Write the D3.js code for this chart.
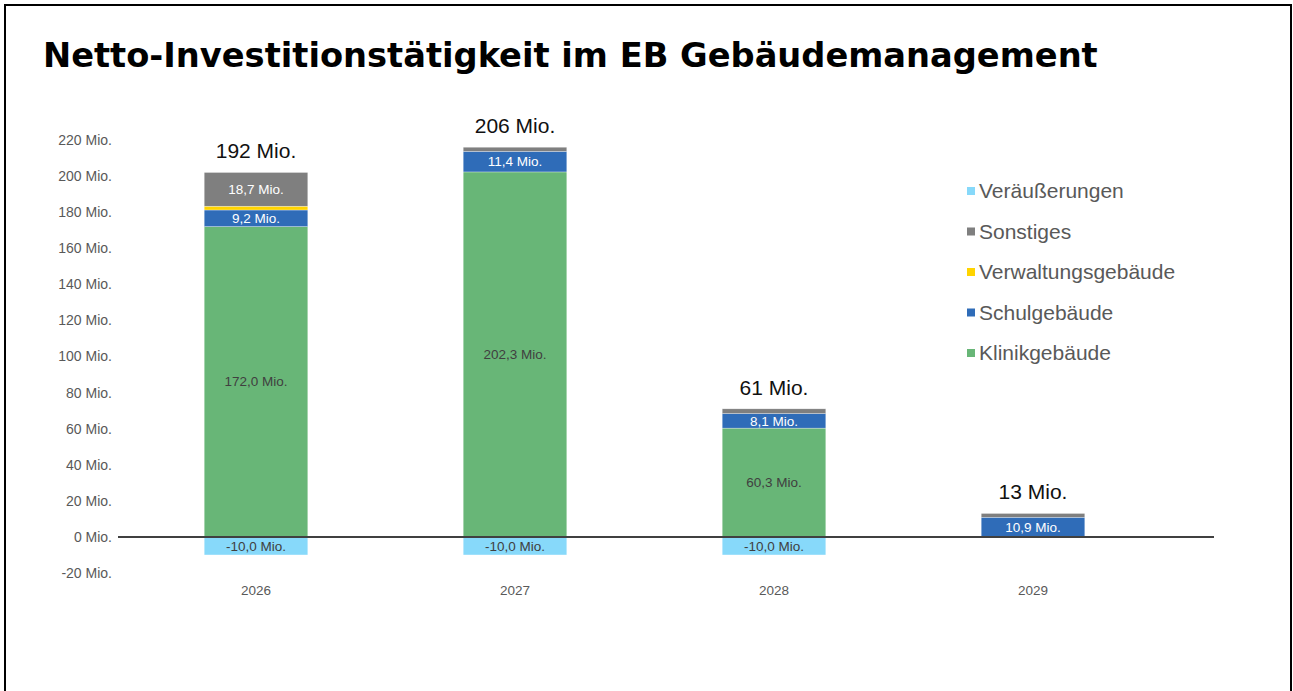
<!DOCTYPE html>
<html>
<head>
<meta charset="utf-8">
<script src="https://cdn.jsdelivr.net/npm/d3@7"></script>
<style>
  body { margin: 0; background: #fff; }
  svg { display: block; }
</style>
</head>
<body>
<div id="chart"></div>
<script>
// ---- data ----
var years = ['2026', '2027', '2028', '2029'];
var veraeusserungen = [-10.0, -10.0, -10.0, 0];
var klinikgebaeude = [172.0, 202.3, 60.3, 0];
var schulgebaeude = [9.2, 11.4, 8.1, 10.9];
var verwaltungsgebaeude = [2.1, 0, 0, 0];
var sonstiges = [18.7, 2.3, 2.6, 2.1];
var yTicks = [-20, 0, 20, 40, 60, 80, 100, 120, 140, 160, 180, 200, 220];

var seriesNames = ['Veräußerungen', 'Klinikgebäude', 'Schulgebäude', 'Verwaltungsgebäude', 'Sonstiges'];
var seriesValues = [veraeusserungen, klinikgebaeude, schulgebaeude, verwaltungsgebaeude, sonstiges];
var colors = {
  'Veräußerungen': '#87d9fa',
  'Klinikgebäude': '#68b677',
  'Schulgebäude': '#2f6cb8',
  'Verwaltungsgebäude': '#ffd400',
  'Sonstiges': '#7f7f7f'
};
var labelColors = {
  'Veräußerungen': '#404040',
  'Klinikgebäude': '#404040',
  'Schulgebäude': '#ffffff',
  'Verwaltungsgebäude': '#404040',
  'Sonstiges': '#ffffff'
};
var legendOrder = ['Veräußerungen', 'Sonstiges', 'Verwaltungsgebäude', 'Schulgebäude', 'Klinikgebäude'];

// rows for d3.stack
var rows = years.map(function(y, i) {
  var r = { year: y };
  seriesNames.forEach(function(s, j) { r[s] = seriesValues[j][i]; });
  return r;
});

// ---- layout ----
var width = 1293, height = 691;
var axisLeft = 118, axisRight = 1214;
var sans = '"Liberation Sans", Arial, sans-serif';

var svg = d3.select('#chart').append('svg')
  .attr('width', width)
  .attr('height', height);

// frame
svg.append('rect')
  .attr('x', 5).attr('y', 5)
  .attr('width', 1286).attr('height', 700)
  .attr('fill', 'none')
  .attr('stroke', '#000')
  .attr('stroke-width', 2);

// title, fitted to the width of the original
var title = svg.append('text')
  .attr('x', 43).attr('y', 67)
  .attr('font-family', '"DejaVu Sans", sans-serif')
  .attr('font-weight', 'bold')
  .attr('font-size', 30)
  .attr('fill', '#000')
  .text('Netto-Investitionstätigkeit im EB Gebäudemanagement');
var tw = title.node().getComputedTextLength();
title.attr('font-size', 30 * 1055 / tw);

var x = d3.scaleBand()
  .domain(years)
  .range([126.5, 1162.5])
  .paddingInner(0.6)
  .paddingOuter(0.3);

var y = d3.scaleLinear()
  .domain([-20, 220])
  .range([573, 140]);

// y axis labels
var yAxis = svg.append('g')
  .attr('transform', 'translate(' + axisLeft + ',0)')
  .call(d3.axisLeft(y)
    .tickValues(yTicks)
    .tickSize(0)
    .tickPadding(6)
    .tickFormat(function(d) { return d + ' Mio.'; }));
yAxis.select('.domain').remove();
yAxis.selectAll('text')
  .attr('font-family', sans)
  .attr('font-size', 14)
  .attr('fill', '#595959');

// x axis labels
var xAxis = svg.append('g')
  .attr('transform', 'translate(0,585)')
  .call(d3.axisBottom(x).tickSize(0).tickPadding(0));
xAxis.select('.domain').remove();
xAxis.selectAll('text')
  .attr('font-family', sans)
  .attr('font-size', 13.5)
  .attr('fill', '#595959');

// stacked bars
var stack = d3.stack()
  .keys(seriesNames)
  .offset(d3.stackOffsetDiverging);
var stacked = stack(rows);

var layers = svg.append('g').selectAll('g')
  .data(stacked)
  .enter().append('g')
    .attr('fill', function(d) { return colors[d.key]; });

layers.selectAll('rect')
  .data(function(d) { return d.filter(function(p) { return p[1] !== p[0]; }); })
  .enter().append('rect')
    .attr('x', function(d) { return x(d.data.year); })
    .attr('width', x.bandwidth())
    .attr('y', function(d) { return y(Math.max(d[0], d[1])); })
    .attr('height', function(d) { return Math.abs(y(d[0]) - y(d[1])); })
    .attr('stroke', '#ffffff')
    .attr('stroke-opacity', 0.6)
    .attr('stroke-width', 0.5);

// segment labels
stacked.forEach(function(layer) {
  svg.append('g').selectAll('text')
    .data(layer.filter(function(p) { return Math.abs(p[1] - p[0]) > 5; }))
    .enter().append('text')
      .attr('x', function(d) { return x(d.data.year) + x.bandwidth() / 2; })
      .attr('y', function(d) { return y((d[0] + d[1]) / 2); })
      .attr('dy', '0.35em')
      .attr('text-anchor', 'middle')
      .attr('font-family', sans)
      .attr('font-size', 13.5)
      .attr('fill', labelColors[layer.key])
      .text(function(d) {
        return d.data[layer.key].toFixed(1).replace('.', ',') + ' Mio.';
      });
});

// zero line
svg.append('line')
  .attr('x1', axisLeft).attr('x2', axisRight)
  .attr('y1', y(0)).attr('y2', y(0))
  .attr('stroke', '#404040')
  .attr('stroke-width', 2);

// totals above the bars
svg.append('g').selectAll('text')
  .data(rows)
  .enter().append('text')
    .attr('x', function(d) { return x(d.year) + x.bandwidth() / 2; })
    .attr('y', function(d) {
      var top = d3.sum(seriesNames, function(s) { return d[s] > 0 ? d[s] : 0; });
      return y(top) - 14;
    })
    .attr('text-anchor', 'middle')
    .attr('font-family', sans)
    .attr('font-size', 21)
    .attr('fill', '#111')
    .text(function(d) {
      return Math.round(d3.sum(seriesNames, function(s) { return d[s]; })) + ' Mio.';
    });

// legend
var legend = svg.append('g').selectAll('g')
  .data(legendOrder)
  .enter().append('g')
    .attr('transform', function(d, i) { return 'translate(967,' + (191 + i * 40.5) + ')'; });
legend.append('rect')
  .attr('x', 0).attr('y', -4)
  .attr('width', 8).attr('height', 8)
  .attr('fill', function(d) { return colors[d]; });
legend.append('text')
  .attr('x', 12)
  .attr('dy', '0.35em')
  .attr('font-family', sans)
  .attr('font-size', 21)
  .attr('fill', '#595959')
  .text(function(d) { return d; });
</script>
</body>
</html>
